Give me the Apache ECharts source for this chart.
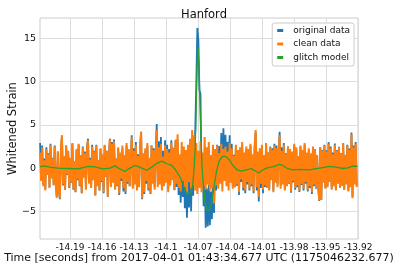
<!DOCTYPE html>
<html>
<head>
<meta charset="utf-8">
<script src="https://cdn.jsdelivr.net/npm/echarts@6/dist/echarts.min.js"></script>
<style>
html,body{margin:0;padding:0;background:#fff;}
#chart{width:399px;height:266px;}
</style>
</head>
<body>
<div id="chart"></div>
<script>
// ---- data ----
const chartTitle = 'Hanford';
const seriesNames = ['original data', 'clean data', 'glitch model'];
const startTime = -14.218;     // first sample time (s)
const sampleRate = 1024;       // samples per second

const xTickValues = [-14.19, -14.16, -14.13, -14.1, -14.07, -14.04, -14.01, -13.98, -13.95, -13.92];
const yTickValues = [-5, 0, 5, 10, 15];

const cleanData = [
1.8,-1.5,2.4,-2.1,0.9,-2.6,2.2,-0.8,1.6,-2.3,
2.7,-1.2,1.1,-2.0,2.5,-1.7,-3.4,1.9,-2.5,-3.5,
2.3,3.8,-1.9,1.4,-2.4,2.6,-0.7,2.0,-2.2,1.2,
-1.6,2.9,-2.4,0.8,-2.7,2.2,-1.3,2.8,-2.0,1.5,
-2.9,2.4,-1.1,1.7,-2.5,2.1,3.2,-1.8,1.0,-2.3,
2.5,-1.4,1.9,-3.2,2.6,-2.1,0.9,-2.6,2.3,-1.5,
1.6,-2.8,2.7,-0.9,2.0,-3.3,1.3,3.3,-2.2,2.8,
-1.7,3.1,-2.5,1.1,-2.0,2.4,-2.9,1.8,-1.2,2.6,
-2.3,1.5,-2.7,2.9,-1.6,2.2,-2.1,1.0,3.6,-2.4,
2.0,-1.9,2.7,-2.6,1.4,-2.2,2.5,4.2,-3.5,1.7,
-2.8,2.3,-1.5,2.9,-2.4,1.2,-2.9,2.6,-1.8,2.1,
-2.5,1.6,4.4,-2.2,2.4,-1.9,2.8,-2.6,1.3,-2.1,
2.6,-1.7,2.2,-2.8,1.8,-2.0,2.9,-1.4,2.3,-2.5,
3.3,-1.8,3.9,-2.3,1.6,-2.7,3.0,-1.5,2.5,-2.2,
2.1,-2.9,2.7,-1.6,3.4,-2.4,4.4,-2.0,3.8,-2.6,
2.9,-3.0,2.0,-2.3,3.1,-2.8,1.8,-2.1,3.6,-2.5,
2.4,-1.9,3.0,-2.6,1.5,-2.3,2.7,-4.1,2.2,-2.0,
2.6,-2.4,1.7,-1.8,2.8,-2.7,2.2,-1.5,2.5,-2.1,
1.9,-2.6,2.9,-1.7,2.3,-2.4,1.4,-2.2,2.7,-1.9,
2.1,-2.8,2.4,-1.3,3.0,-2.3,1.8,-2.6,2.5,-1.6,
2.2,-2.4,2.8,-1.9,1.6,-2.7,2.6,4.4,-2.2,1.9,
-3.3,2.3,-1.8,2.7,-2.5,1.5,-2.0,2.9,-2.3,1.8,
-2.6,2.4,-1.4,2.1,-2.8,2.6,-1.7,2.3,-2.2,1.2,
3.8,-2.4,2.0,-1.9,2.7,-2.6,1.6,-2.1,2.5,-1.8,
2.2,-2.7,1.9,-1.5,2.8,-2.3,2.4,-2.0,1.4,-2.6,
2.6,-1.8,2.1,-2.4,2.9,-1.6,1.8,-2.5,2.3,-2.1,
1.7,-2.8,2.5,-1.9,2.2,-2.3,1.5,-2.0,-3.75,2.4,
-3.7,2.0,-1.7,2.6,-2.4,1.9,-2.2,2.8,-1.6,2.3,
-2.5,1.6,-2.1,2.7,-2.6,2.0,-1.8,2.4,-2.3,1.7,
-2.0,2.9,-2.5,1.5,-1.9,2.6,-2.7,2.1,-2.2,3.9,
-3.5,2.4,-1.9,2.8,-2.2
];

const originalData = [
2.9,-1.3,2.6,-1.9,1.1,-2.4,2.4,-0.6,1.7,-2.2,
2.8,-1.1,1.2,-1.9,2.6,-1.6,-3.4,1.9,-2.5,-3.6,
2.3,3.7,-2.0,1.4,-2.5,2.6,-0.8,1.9,-2.3,1.1,
-1.7,2.8,-2.5,0.7,-2.8,2.1,-1.4,2.7,-2.1,1.4,
-2.9,2.5,-1.0,1.9,-2.3,2.3,3.4,-1.6,1.2,-2.1,
2.7,-1.3,2.0,-3.1,2.7,-2.0,0.9,-2.6,2.2,-1.6,
1.5,-2.9,2.6,-1.0,2.0,-3.3,1.3,3.4,-2.1,3.0,
-1.5,3.3,-2.4,1.1,-2.1,2.3,-3.1,1.6,-1.5,2.3,
-2.7,1.1,-3.0,2.6,-1.8,2.1,-2.1,1.1,3.8,-2.2,
2.3,-1.6,3.0,-2.4,1.6,-2.1,2.5,4.2,-3.6,1.5,
-3.0,2.0,-1.8,2.6,-2.6,1.0,-3.0,2.6,-1.6,2.3,
-2.2,2.05,5.1,-1.55,3.1,-1.1,3.6,-1.8,2.0,-1.45,
3.2,-1.2,2.7,-2.4,2.2,-1.7,3.2,-1.2,2.35,-2.55,
3.1,-2.2,3.3,-3.1,0.6,-4.0,1.45,-3.35,0.35,-4.65,
-0.6,-5.75,-0.3,-4.55,0.55,-5.0,2.3,-3.2,1.0,4.5,
10.0,16.2,14.8,9.0,8.6,-0.8,0.7,-4.4,-0.15,-6.9,
-2.35,-6.75,-1.9,-6.6,-2.7,-5.9,-0.2,-5.2,0.8,-2.6,
2.7,-1.85,2.55,-0.75,4.05,-1.35,4.6,-0.15,3.85,-0.8,
3.05,-1.6,3.8,-1.0,2.8,-2.1,1.55,-2.2,2.6,-2.05,
1.8,-3.1,2.1,-1.6,2.7,-2.6,1.5,-2.9,2.2,-1.9,
2.0,-2.6,2.6,-2.1,1.4,-2.9,2.3,4.1,-2.6,1.5,
-3.85,1.8,-2.3,2.3,-2.9,1.3,-2.2,2.8,-2.3,1.8,
-2.5,2.5,-1.3,2.3,-2.6,2.8,-1.4,2.6,-1.9,1.6,
4.2,-2.0,2.4,-1.6,2.9,-2.45,1.7,-2.05,2.5,-1.85,
2.05,-2.85,1.75,-1.65,2.6,-2.5,2.2,-2.2,1.25,-2.75,
2.45,-1.95,1.9,-2.6,2.7,-1.8,1.6,-2.7,2.1,-2.3,
1.5,-3.0,2.3,-2.1,2.1,-2.4,1.4,-2.1,-3.8,2.4,
-3.7,2.1,-1.6,2.7,-2.3,2.05,-2.05,3.0,-1.45,2.5,
-2.35,1.8,-1.95,2.85,-2.5,2.1,-1.75,2.45,-2.3,1.7,
-2.05,2.9,-2.5,1.55,-1.85,2.7,-2.6,2.25,-2.05,4.1,
-3.3,2.6,-1.7,3.0,-2.0
];

const glitchTime = [
-14.2180,-14.2152,-14.2077,-14.2012,-14.1918,-14.1824,-14.1731,-14.1665,-14.1591,-14.1525,
-14.1478,-14.1432,-14.1385,-14.1338,-14.1291,-14.1235,-14.1179,-14.1123,-14.1085,-14.1039,
-14.0992,-14.0945,-14.0917,-14.0870,-14.0842,-14.0814,-14.0791,-14.0767,-14.0749,-14.0739,
-14.0727,-14.0718,-14.0708,-14.0699,-14.0690,-14.0680,-14.0671,-14.0662,-14.0652,-14.0636,
-14.0620,-14.0596,-14.0574,-14.0552,-14.0527,-14.0503,-14.0471,-14.0440,-14.0402,-14.0372,
-14.0334,-14.0293,-14.0246,-14.0199,-14.0153,-14.0128,-14.0091,-14.0044,-13.9997,-13.9935,
-13.9904,-13.9857,-13.9810,-13.9748,-13.9654,-13.9591,-13.9530,-13.9467,-13.9404,-13.9342,
-13.9296,-13.9249,-13.9202
];
const glitchModel = [
0.15,0.25,0.08,0.0,-0.05,-0.1,0.2,0.15,-0.1,0.0,
0.25,-0.1,-0.4,0.0,0.3,0.05,-0.25,0.2,0.55,0.8,
0.5,0.3,-0.1,-1.0,-1.8,-2.7,-3.0,-2.8,-2.0,-0.45,
1.85,6.0,11.5,14.0,11.5,7.0,3.5,0.3,-1.6,-3.75,
-4.7,-4.9,-4.1,-2.4,-0.45,0.78,1.35,1.35,0.9,0.3,
-0.2,-0.35,-0.2,-0.07,-0.4,-0.55,-0.2,0.05,0.15,0.42,
0.3,-0.07,-0.2,-0.15,-0.2,-0.07,0.05,0.2,0.1,-0.05,
0.03,0.23,0.2
];

// ---- build ----
const sampleTimes = cleanData.map((_, i) => startTime + i / sampleRate);
const toPairs = (vals) => vals.map((v, i) => [sampleTimes[i], v]);
const glitchPairs = glitchModel.map((v, i) => [glitchTime[i], v]);

const font = 'DejaVu Sans';
const chart = echarts.init(document.getElementById('chart'), null, {renderer: 'canvas'});
chart.setOption({
  animation: false,
  backgroundColor: '#ffffff',
  title: {
    text: chartTitle,
    left: 199, top: 4, textAlign: 'center',
    textStyle: {fontFamily: font, fontSize: 11.5, fontWeight: 'normal', color: '#111'}
  },
  legend: {
    data: seriesNames,
    orient: 'vertical',
    right: 45, top: 23,
    icon: 'rect',
    itemWidth: 6, itemHeight: 3,
    itemGap: 2.5,
    padding: [2, 4, 3, 5],
    backgroundColor: 'rgba(255,255,255,0.85)',
    borderColor: '#cccccc', borderWidth: 1, borderRadius: 2,
    textStyle: {fontFamily: font, fontSize: 9, color: '#111', lineHeight: 11, padding: [0, 0, 0, 5]}
  },
  grid: {
    left: 40, right: 41, top: 18, bottom: 27,
    show: true, borderColor: '#cccccc', borderWidth: 1,
    containLabel: false,
    outerBoundsMode: 'none'
  },
  xAxis: {
    type: 'value',
    min: -14.2181, max: -13.9199,
    name: 'Time [seconds] from 2017-04-01 01:43:34.677 UTC (1175046232.677)',
    nameLocation: 'middle', nameGap: 14, nameMoveOverlap: false,
    nameTextStyle: {fontFamily: font, fontSize: 11, color: '#111', verticalAlign: 'top'},
    axisLine: {show: false},
    axisTick: {show: false, customValues: xTickValues},
    axisLabel: {
      customValues: xTickValues,
      fontFamily: font, fontSize: 9, color: '#111', margin: 4,
      formatter: (v) => String(+(+v).toFixed(2))
    },
    splitLine: {show: true, lineStyle: {color: '#dddddd', width: 1}}
  },
  yAxis: {
    type: 'value',
    min: -8.2, max: 17.35,
    name: 'Whitened Strain',
    nameLocation: 'middle', nameGap: 21, nameRotate: 90, nameMoveOverlap: false,
    nameTextStyle: {fontFamily: font, fontSize: 11.5, color: '#111'},
    axisLine: {show: false},
    axisTick: {show: false, customValues: yTickValues},
    axisLabel: {
      customValues: yTickValues,
      fontFamily: font, fontSize: 9.5, color: '#111', margin: 4,
      formatter: (v) => String(v).replace('-', '\u2212')
    },
    splitLine: {show: true, lineStyle: {color: '#dddddd', width: 1}}
  },
  series: [
    {name: seriesNames[0], type: 'line', data: toPairs(originalData), showSymbol: false, symbol: 'none',
     lineStyle: {color: '#1f77b4', width: 1.8}, itemStyle: {color: '#1f77b4'}, z: 2},
    {name: seriesNames[1], type: 'line', data: toPairs(cleanData), showSymbol: false, symbol: 'none',
     lineStyle: {color: '#ff7f0e', width: 2}, itemStyle: {color: '#ff7f0e'}, z: 3},
    {name: seriesNames[2], type: 'line', data: glitchPairs, showSymbol: false, symbol: 'none',
     lineStyle: {color: '#2ca02c', width: 1.3}, itemStyle: {color: '#2ca02c'}, z: 4}
  ]
});
</script>
</body>
</html>
